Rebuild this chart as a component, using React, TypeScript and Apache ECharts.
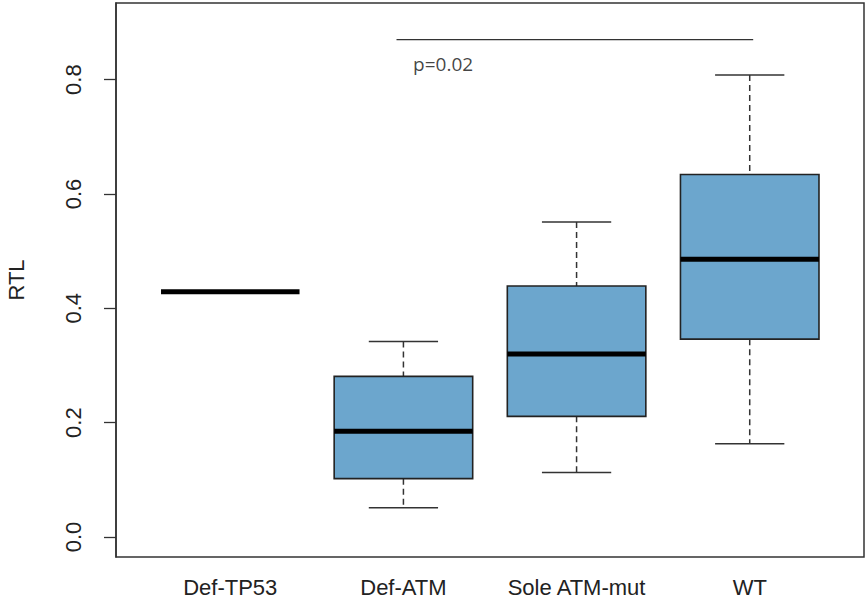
import React, { useEffect, useRef } from "react";
import * as echarts from "echarts";

// Groups along the x axis (positions 1..4)
const categories = ["Def-TP53", "Def-ATM", "Sole ATM-mut", "WT"];
// Box statistics
const minVals = [0.429, 0.051, 0.113, 0.163];
const q1Vals = [0.429, 0.102, 0.211, 0.346];
const medianVals = [0.429, 0.185, 0.32, 0.486];
const q3Vals = [0.429, 0.281, 0.439, 0.634];
const maxVals = [0.429, 0.342, 0.551, 0.808];

const yTicks = [0, 0.2, 0.4, 0.6, 0.8];
const xTicks = [1, 2, 3, 4];

// significance annotation
const sigLineX = [1.96, 4.02];
const sigLineY = 0.87;
const sigLabel = "p=0.02";
const sigLabelPos = [2.056, 0.828];

const FONT = "'Liberation Sans', Arial, sans-serif";

export default function App() {
  const ref = useRef<HTMLDivElement>(null);

  useEffect(() => {
    document.body.style.margin = "0";
    if (!ref.current) return;
    const chart = echarts.init(ref.current, null, { renderer: "svg" });

    const boxData = categories.map((_, i) => [
      i + 1,
      minVals[i],
      q1Vals[i],
      medianVals[i],
      q3Vals[i],
      maxVals[i],
    ]);

    const option: any = {
      animation: false,
      backgroundColor: "#ffffff",
      grid: {
        left: 116,
        right: 2,
        top: 3,
        bottom: 43,
        containLabel: false,
        outerBoundsMode: "none",
        show: true,
        borderColor: "#333",
        borderWidth: 1.5,
        backgroundColor: "transparent",
      },
      xAxis: {
        type: "value",
        min: 0.34,
        max: 4.66,
        splitLine: { show: false },
        axisLine: { show: false },
        axisTick: { show: false },
        axisLabel: {
          customValues: xTicks,
          formatter: (v: number) => categories[Math.round(v) - 1] ?? "",
          fontSize: 22,
          fontFamily: FONT,
          color: "#222",
          margin: 19,
        },
      },
      yAxis: {
        type: "value",
        min: -0.035,
        max: 0.934,
        name: "RTL",
        nameLocation: "middle",
        nameGap: 89,
        nameRotate: 90,
        nameTextStyle: { fontSize: 22, fontFamily: FONT, color: "#222" },
        splitLine: { show: false },
        axisLine: { show: true, lineStyle: { color: "#333", width: 1.5 } },
        axisTick: {
          show: true,
          customValues: yTicks,
          length: 12,
          lineStyle: { color: "#333", width: 1.3 },
        },
        axisLabel: {
          customValues: yTicks,
          rotate: 90,
          formatter: (v: number) => v.toFixed(1),
          fontSize: 22,
          fontFamily: FONT,
          color: "#222",
          margin: 32,
        },
      },
      series: [
        {
          type: "custom",
          silent: true,
          encode: { x: 0, y: [1, 2, 3, 4, 5] },
          data: boxData,
          renderItem: (params: any, api: any) => {
            const x = api.value(0);
            const mn = api.value(1);
            const q1 = api.value(2);
            const md = api.value(3);
            const q3 = api.value(4);
            const mx = api.value(5);
            const bw = api.size([0.8, 0])[0];
            const cx = api.coord([x, md])[0];
            const yOf = (v: number) => api.coord([x, v])[1];
            const children: any[] = [];
            if (mx > mn) {
              const whisker = {
                stroke: "#333",
                lineWidth: 1.5,
                lineDash: [6, 4],
              };
              children.push({
                type: "line",
                shape: { x1: cx, y1: yOf(mx), x2: cx, y2: yOf(q3) },
                style: whisker,
              });
              children.push({
                type: "line",
                shape: { x1: cx, y1: yOf(q1), x2: cx, y2: yOf(mn) },
                style: whisker,
              });
              const cap = { stroke: "#333", lineWidth: 1.5 };
              children.push({
                type: "line",
                shape: { x1: cx - bw / 4, y1: yOf(mx), x2: cx + bw / 4, y2: yOf(mx) },
                style: cap,
              });
              children.push({
                type: "line",
                shape: { x1: cx - bw / 4, y1: yOf(mn), x2: cx + bw / 4, y2: yOf(mn) },
                style: cap,
              });
              children.push({
                type: "rect",
                shape: {
                  x: cx - bw / 2,
                  y: yOf(q3),
                  width: bw,
                  height: yOf(q1) - yOf(q3),
                },
                style: { fill: "#6ca6cd", stroke: "#222", lineWidth: 1.6 },
              });
            }
            children.push({
              type: "line",
              shape: { x1: cx - bw / 2, y1: yOf(md), x2: cx + bw / 2, y2: yOf(md) },
              style: { stroke: "#000", lineWidth: 5 },
            });
            return { type: "group", children };
          },
          z: 2,
        },
        {
          type: "line",
          silent: true,
          symbol: "none",
          data: sigLineX.map((x) => [x, sigLineY]),
          lineStyle: { color: "#333", width: 1.3 },
          z: 3,
        },
        {
          type: "scatter",
          silent: true,
          symbolSize: 0,
          data: [sigLabelPos],
          label: {
            show: true,
            formatter: sigLabel,
            position: "right",
            distance: 0,
            fontSize: 19,
            fontFamily: "'Open Sans', 'Noto Sans', sans-serif",
            color: "#111",
          },
          z: 3,
        },
      ],
    };

    chart.setOption(option);
    return () => chart.dispose();
  }, []);

  return <div ref={ref} style={{ width: 866, height: 600 }} />;
}
